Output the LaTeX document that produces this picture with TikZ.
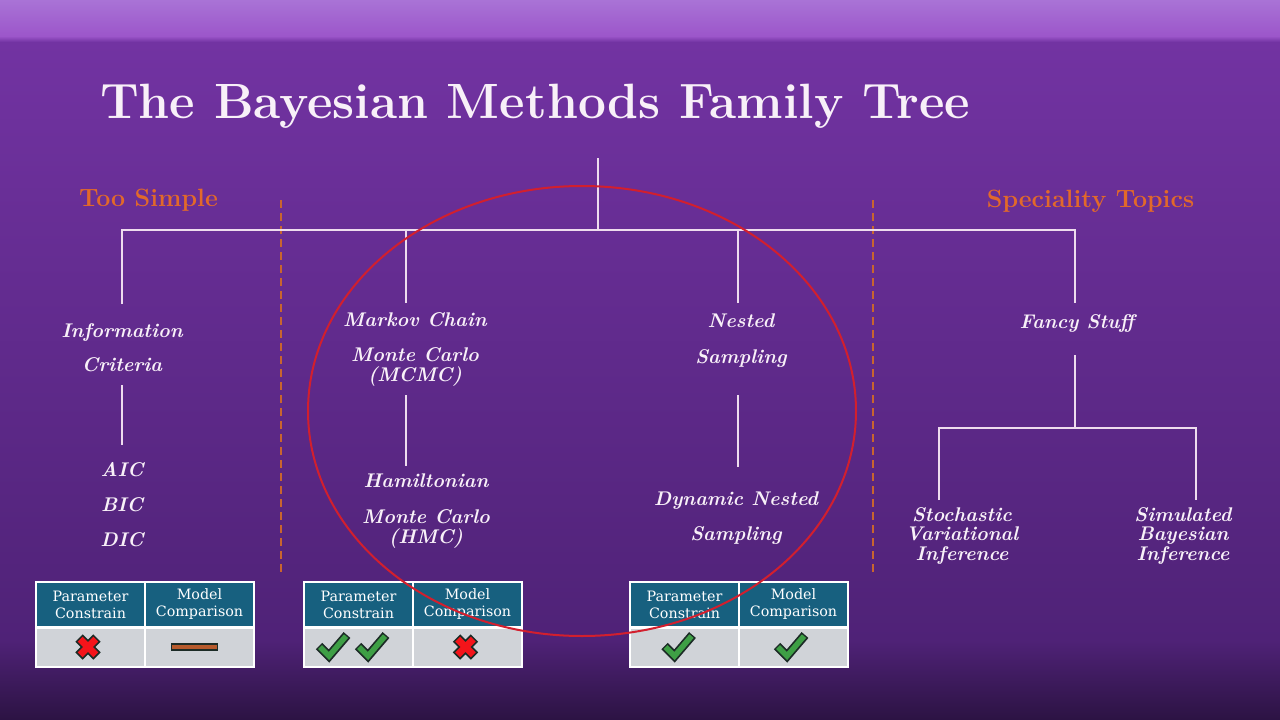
\documentclass[tikz,border=0pt]{standalone}
\usepackage{fontspec}
\usepackage{tikz}
\usetikzlibrary{positioning,calc}
\newfontfamily\cellfont{DejaVu Serif}
\definecolor{bandtop}{HTML}{A973D6}
\definecolor{bandbot}{HTML}{9C56CA}
\definecolor{plumtop}{HTML}{7233A2}
\definecolor{plummid}{HTML}{4F2277}
\definecolor{plumbot}{HTML}{2C1343}
\definecolor{chalk}{HTML}{F8F0F8}
\definecolor{treeline}{HTML}{EEDCEE}
\definecolor{tangerine}{HTML}{E2692A}
\definecolor{rust}{HTML}{C9652E}
\definecolor{ringred}{HTML}{D21F2E}
\definecolor{petrol}{HTML}{17607F}
\definecolor{cellgrey}{HTML}{D0D3D8}
\definecolor{inkdark}{HTML}{1C2B26}
\definecolor{leafgreen}{HTML}{3E9F45}
\definecolor{alarmred}{HTML}{F4141A}
\definecolor{clay}{HTML}{B65A2C}
\tikzset{
  branch/.style={draw=treeline, line width=2pt},
  leaf/.style={text=chalk, font=\fontsize{19.8}{20}\selectfont\bfseries\itshape,
    align=center, inner sep=0pt, anchor=base},
  grouplabel/.style={text=tangerine, font=\fontsize{25}{27}\selectfont\bfseries,
    inner sep=0pt, anchor=base},
  divider/.style={draw=rust, line width=1.5pt, dash pattern=on 8pt off 5pt},
  headcell/.style={rectangle, fill=petrol, draw=white, line width=1.5pt,
    minimum width=109pt, minimum height=45pt, text=white,
    font=\cellfont\fontsize{14.3}{17}\selectfont, align=center,
    inner sep=0pt, outer sep=0pt},
  bodycell/.style={rectangle, fill=cellgrey, draw=white, line width=1.5pt,
    minimum width=109pt, minimum height=40pt, inner sep=0pt, outer sep=0pt},
  dashbar/.style={rectangle, fill=clay, draw=inkdark, line width=1.5pt,
    minimum width=46pt, minimum height=6pt, inner sep=0pt},
  okmark/.pic={
    \draw[inkdark, line width=9pt, line join=miter] (-13,-1) -- (-3,9) -- (15,-12);
    \draw[leafgreen, line width=5.5pt, line join=miter] (-11.9,0.1) -- (-3,9) -- (14,-10.9);
  },
  failmark/.pic={
    \draw[inkdark, line width=10.5pt] (-9,-9) -- (9,9) (-9,9) -- (9,-9);
    \draw[alarmred, line width=7pt] (-7.8,-7.8) -- (7.8,7.8) (-7.8,7.8) -- (7.8,-7.8);
  },
}

\begin{document}
\begin{tikzpicture}[x=1pt, y=-1pt]
  \useasboundingbox (0,0) rectangle (1280,720);
  % background
  \shade[top color=bandtop, bottom color=bandbot] (0,0) rectangle (1280,36);
  \shade[top color=bandbot, bottom color=plumtop] (0,36) rectangle (1280,42);
  \shade[top color=plumtop, bottom color=plummid] (0,42) rectangle (1280,640);
  \shade[top color=plummid, bottom color=plumbot] (0,640) rectangle (1280,720);

  \node[text=chalk, font=\fontsize{49.6}{52}\selectfont\bfseries, anchor=base west,
    inner sep=0pt] (title) at (100,118) {The Bayesian Methods Family Tree};

  % group headings and dividers
  \node[grouplabel] (simple) at (148.5,206) {Too Simple};
  \node[grouplabel] (special) at (1090.5,207) {Speciality Topics};
  \coordinate (divLtop) at (281,200);
  \coordinate (divLbot) at (281,572);
  \coordinate (divRtop) at (873,200);
  \coordinate (divRbot) at (873,572);
  \draw[divider] (divLtop) -- (divLbot);
  \draw[divider] (divRtop) -- (divRbot);

  % top of the tree
  \coordinate (root) at (598,158);
  \coordinate (hub) at (598,230);
  \coordinate (icTop) at (122,304);
  \coordinate (mcTop) at (406,303);
  \coordinate (nsTop) at (738,303);
  \coordinate (fsTop) at (1075,303);
  \draw[branch] (root) -- (hub);
  \draw[branch] (icTop) |- (hub) -| (fsTop);
  \draw[branch] (mcTop) -- (mcTop |- hub);
  \draw[branch] (nsTop) -- (nsTop |- hub);

  % information criteria
  \node[leaf] (ic) at (122,371) {Information\\[14pt]Criteria};
  \node[leaf] (xic) at (122,546) {AIC\\[15pt]BIC\\[15pt]DIC};
  \coordinate (icStem) at (122,385);
  \coordinate (xicTop) at (122,445);
  \draw[branch] (icStem) -- (xicTop);

  % mcmc
  \node[leaf] (mcmc) at (415,381) {Markov Chain\\[15pt]Monte Carlo\\(MCMC)};
  \node[leaf] (hmc) at (426,543) {Hamiltonian\\[16pt]Monte Carlo\\(HMC)};
  \coordinate (mcStem) at (406,395);
  \coordinate (hmcTop) at (406,466);
  \draw[branch] (mcStem) -- (hmcTop);

  % nested sampling
  \node[leaf] (ns) at (741,363) {Nested\\[16pt]Sampling};
  \node[leaf] (dns) at (736,540) {Dynamic Nested\\[15pt]Sampling};
  \coordinate (nsStem) at (738,395);
  \coordinate (dnsTop) at (738,467);
  \draw[branch] (nsStem) -- (dnsTop);

  % fancy stuff
  \node[leaf] (fs) at (1077,328) {Fancy Stuff};
  \node[leaf] (svi) at (962,560) {Stochastic\\[-1pt]Variational\\Inference};
  \node[leaf] (sbi) at (1183,560) {Simulated\\[-1pt]Bayesian\\Inference};
  \coordinate (fsStem) at (1075,355);
  \coordinate (fsHub) at (1075,428);
  \coordinate (sviTop) at (939,500);
  \coordinate (sbiTop) at (1196,500);
  \draw[branch] (fsStem) -- (fsHub);
  \draw[branch] (sviTop) |- (fsHub) -| (sbiTop);

  % score tables
  \foreach \t/\x in {a/36,b/304,c/630}{
    \node[headcell] (\t-pc) at ({\x+54.5},604.5) {Parameter\\Constrain};
    \node[headcell, right=0pt of \t-pc] (\t-mc) {Model\\Comparison};
    \node[bodycell, below=0pt of \t-pc] (\t-pv) {};
    \node[bodycell, right=0pt of \t-pv] (\t-mv) {};
    \draw[white, line width=3pt] (\t-pc.south west) -- (\t-mc.south east);
  }
  \pic at ([xshift=-2.5pt]a-pv.center) {failmark};
  \node[dashbar] (abar) at ([xshift=-5pt]a-mv.center) {};
  \pic at ([xshift=-26.5pt]b-pv.center) {okmark};
  \pic at ([xshift=12.5pt]b-pv.center) {okmark};
  \pic at ([xshift=-2pt]b-mv.center) {failmark};
  \pic at ([xshift=-7pt]c-pv.center) {okmark};
  \pic at ([xshift=-3.5pt]c-mv.center) {okmark};

  % highlight
  \draw[ringred, line width=2pt] (582,411) ellipse [x radius=274pt, y radius=225pt];
\end{tikzpicture}
\end{document}
